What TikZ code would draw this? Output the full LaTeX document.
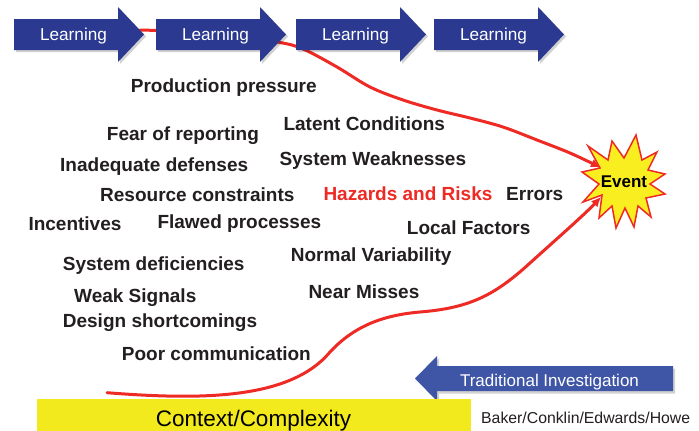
\documentclass[tikz,border=0pt]{standalone}
\usepackage{fontspec}
\setmainfont{Liberation Sans}
\usetikzlibrary{arrows.meta}
\definecolor{ablue}{HTML}{2B3990}
\definecolor{tblue}{HTML}{3F56A6}
\definecolor{rline}{HTML}{EE2A24}
\definecolor{ybox}{HTML}{F2EA1C}
\definecolor{ystar}{HTML}{F9EE1F}
\definecolor{txt}{HTML}{231F20}
\begin{document}
\begin{tikzpicture}[x=1pt,y=-1pt,
  lbl/.style={font=\bfseries\fontsize{19}{21}\selectfont, text=txt, anchor=base west, inner sep=0},
  learntext/.style={font=\fontsize{17.2}{19}\selectfont, text=white, anchor=base, inner sep=0},
  redline/.style={draw=rline, line width=3pt, line cap=round, line join=round},
  redtip/.style={-{Latex[length=10pt,width=9pt]}},
  shadowfill/.style={fill=black, opacity=0.18}
]
\useasboundingbox (0,0) rectangle (699,431);
\fill[white] (0,0) rectangle (699,431);

% Event starburst
\coordinate (evc) at (624,182);
\begin{scope}[shift={(evc)}]
\filldraw[fill=ystar, draw=rline, line width=1.5pt, line join=miter]
  (12,-47) -- (18,-22) -- (33,-30) -- (24,-12) -- (41,-8) -- (26,2) -- (41,12)
  -- (22,16) -- (27,35) -- (14,24) -- (10,45) -- (1,26) -- (-8,46) -- (-12,24)
  -- (-25,36) -- (-22,13) -- (-41,20) -- (-25,2) -- (-42,-10) -- (-24,-14)
  -- (-36,-36) -- (-16,-22) -- (-12,-41) -- (0,-24) -- cycle;
\end{scope}
\node[circle, minimum size=54pt, inner sep=0, text=black,
      font=\bfseries\fontsize{17}{19}\selectfont] (ev) at (evc) {Event};

% red curves
\coordinate (s1) at (140,30);
\coordinate (s2) at (107,392.7);
\draw[redline, redtip] plot[smooth, tension=0.55] coordinates {(s1) (210,33) (277,42) (303,49)
  (337,67) (370,87) (403,100) (437,110) (470,118) (503,127) (537,140) (570,153) (ev.148)};
\draw[redline, redtip] (s2) .. controls (200,400) and (290,400) .. (330,352)
  .. controls (355,325) and (385,315) .. (420,312)
  .. controls (470,308) and (495,295) .. (530,263)
  .. controls (560,236) and (585,214) .. (ev.213);

% Learning arrows
\foreach \x/\n in {14/1,156/2,296/3,434/4}{
  \fill[shadowfill] (\x+2,21) -- (\x+106,21) -- (\x+106,9) -- (\x+132,36.5) -- (\x+106,64)
    -- (\x+106,52) -- (\x+2,52) -- cycle;
  \fill[ablue] (\x,19) -- (\x+104,19) -- (\x+104,7) -- (\x+130,34.5) -- (\x+104,62)
    -- (\x+104,50) -- (\x,50) -- cycle;
  \node[learntext] (learn\n) at (\x+59.5,40.5) {Learning};
}

% Traditional investigation arrow
\fill[shadowfill] (675,368.5) -- (439,368.5) -- (439,358) -- (417,380.5) -- (439,403)
  -- (439,393.5) -- (675,393.5) -- cycle;
\fill[tblue] (673,366) -- (437,366) -- (437,356) -- (415,378.5) -- (437,401)
  -- (437,391) -- (673,391) -- cycle;
\node[font=\fontsize{17}{19}\selectfont, text=white, anchor=base, inner sep=0]
  (trad) at (549.5,386) {Traditional Investigation};

% Context box
\fill[ybox] (37,399) rectangle (471,431);
\node[font=\fontsize{22.5}{24}\selectfont, text=black, anchor=base, inner sep=0]
  (ctx) at (253.5,426) {Context/Complexity};
\node[font=\fontsize{15.8}{18}\selectfont, text=txt, anchor=base west, inner sep=0]
  (credit) at (481,423) {Baker/Conklin/Edwards/Howe};

% labels
\node[lbl] (t1) at (130.7,92.7) {Production pressure};
\node[lbl] (t2) at (106.7,140.7) {Fear of reporting};
\node[lbl] (t3) at (283.3,130) {Latent Conditions};
\node[lbl] (t4) at (60,171.7) {Inadequate defenses};
\node[lbl] (t5) at (279.3,165) {System Weaknesses};
\node[lbl] (t6) at (100,201) {Resource constraints};
\node[lbl, text=rline] (t7) at (323.3,200.7) {Hazards and Risks};
\node[lbl] (t8) at (506,200) {Errors};
\node[lbl] (t9) at (28.3,230) {Incentives};
\node[lbl] (t10) at (157.3,228.3) {Flawed processes};
\node[lbl] (t11) at (406.7,234) {Local Factors};
\node[lbl] (t12) at (62.7,270.7) {System deficiencies};
\node[lbl] (t13) at (290.7,261.7) {Normal Variability};
\node[lbl] (t14) at (74,302.7) {Weak Signals};
\node[lbl] (t15) at (308.3,298) {Near Misses};
\node[lbl] (t16) at (62.7,327) {Design shortcomings};
\node[lbl] (t17) at (121.7,360) {Poor communication};
\end{tikzpicture}
\end{document}
